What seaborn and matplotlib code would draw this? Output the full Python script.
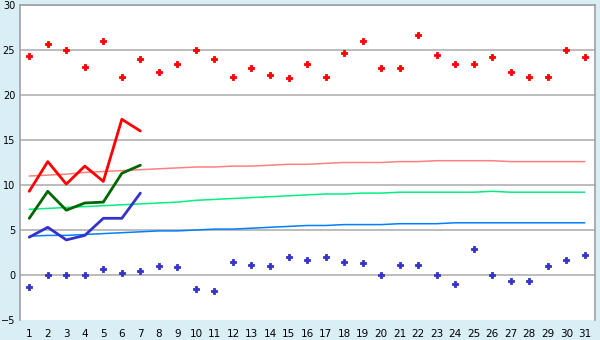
import matplotlib
matplotlib.use("Agg")
import matplotlib.pyplot as plt
import seaborn as sns
import pandas as pd
import numpy as np

days = list(range(1, 32))
rec_max = [24.3, 25.7, 25.0, 23.1, 26.0, 22.0, 24.0, 22.6, 23.5, 25.0, 24.0, 22.0, 23.0, 22.2, 21.9, 23.4,
           22.0, 24.7, 26.0, 23.0, 23.0, 26.7, 24.4, 23.4, 23.4, 24.2, 22.6, 22.0, 22.0, 25.0, 24.2]
rec_min = [-1.3, 0.0, 0.0, 0.0, 0.7, 0.2, 0.4, 1.0, 0.9, -1.6, -1.8, 1.5, 1.1, 1.0, 2.0, 1.7,
           2.0, 1.4, 1.3, 0.0, 1.1, 1.1, 0.0, -1.0, 2.9, 0.0, -0.7, -0.7, 1.0, 1.7, 2.2]
obs_days = [1, 2, 3, 4, 5, 6, 7]
obs_max = [9.3, 12.6, 10.1, 12.1, 10.4, 17.3, 16.0]
obs_mean = [6.3, 9.3, 7.2, 8.0, 8.1, 11.3, 12.2]
obs_min = [4.2, 5.3, 3.9, 4.4, 6.3, 6.3, 9.1]
norm_max = [11.0, 11.1, 11.2, 11.4, 11.5, 11.6, 11.7, 11.8, 11.9, 12.0, 12.0, 12.1, 12.1, 12.2, 12.3, 12.3,
            12.4, 12.5, 12.5, 12.5, 12.6, 12.6, 12.7, 12.7, 12.7, 12.7, 12.6, 12.6, 12.6, 12.6, 12.6]
norm_mean = [7.3, 7.4, 7.5, 7.6, 7.7, 7.8, 7.9, 8.0, 8.1, 8.3, 8.4, 8.5, 8.6, 8.7, 8.8, 8.9,
             9.0, 9.0, 9.1, 9.1, 9.2, 9.2, 9.2, 9.2, 9.2, 9.3, 9.2, 9.2, 9.2, 9.2, 9.2]
norm_min = [4.3, 4.4, 4.4, 4.5, 4.6, 4.7, 4.8, 4.9, 4.9, 5.0, 5.1, 5.1, 5.2, 5.3, 5.4, 5.5,
            5.5, 5.6, 5.6, 5.6, 5.7, 5.7, 5.7, 5.8, 5.8, 5.8, 5.8, 5.8, 5.8, 5.8, 5.8]
y_ticks = [-5, 0, 5, 10, 15, 20, 25, 30]

sns.set_style("white")
plt.rcParams['font.family'] = ['DejaVu Sans']

bg = "#daeef6"
fig = plt.figure(figsize=(6, 3.4), dpi=100, facecolor=bg)
ax = fig.add_axes([20/600, 1-320/340, 575/600, 315/340])
ax.set_facecolor("white")

for y in y_ticks[1:]:
    ax.axhline(y, color="#b0b0b0", lw=1.2, zorder=0)

sns.lineplot(x=days, y=norm_max, color="#ff8080", lw=1.1, ax=ax)
sns.lineplot(x=days, y=norm_mean, color="#00f080", lw=1.1, ax=ax)
sns.lineplot(x=days, y=norm_min, color="#0080ff", lw=1.1, ax=ax)
sns.lineplot(x=obs_days, y=obs_max, color="#ff0000", lw=2, ax=ax)
sns.lineplot(x=obs_days, y=obs_mean, color="#006600", lw=2, ax=ax)
sns.lineplot(x=obs_days, y=obs_min, color="#3333cc", lw=2, ax=ax)
sns.scatterplot(x=days, y=rec_max, color="#ff0000", marker="P", s=22,
                edgecolor="#ff0000", linewidth=0.6, ax=ax)
sns.scatterplot(x=days, y=rec_min, color="#3333cc", marker="P", s=22,
                edgecolor="#3333cc", linewidth=0.6, ax=ax)

ax.set_xlim(0.5, 31.55)
ax.set_ylim(-5, 30)
ax.set_xticks(days)
ax.set_xticklabels([str(d) for d in days])
ax.set_yticks(y_ticks)
ax.tick_params(axis="x", direction="out", length=5, width=1, color="#404040",
               labelsize=7.5, labelcolor="black", pad=1.5)
ax.tick_params(axis="y", direction="out", length=3, width=1, color="#404040",
               labelsize=7, labelcolor="black", pad=0.5)
for s in ["left", "right", "top"]:
    ax.spines[s].set_color("#a0a0a0")
    ax.spines[s].set_linewidth(1.2)
ax.spines["bottom"].set_visible(False)
ax.set_xlabel("")
ax.set_ylabel("")

fig.savefig("out.png", dpi=100, facecolor=bg)
